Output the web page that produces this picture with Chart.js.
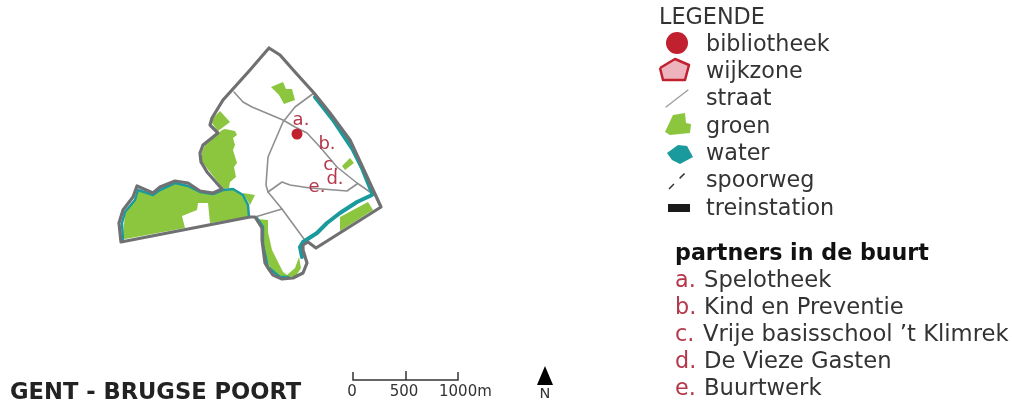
<!DOCTYPE html>
<html>
<head>
<meta charset="utf-8">
<style>
  html, body { margin: 0; padding: 0; background: #fff; }
  canvas { display: block; }
</style>
<script src="https://cdn.jsdelivr.net/npm/chart.js@4"></script>
</head>
<body>
<canvas id="kaart" width="1012" height="404"></canvas>
<script>
// map, units are the reference's own pixels
const wijkzone = [[269,48],[280,55],[295,72],[314,93],[330,113],[350,140],[363,168],[381,207],[316,248],[308,242],[303,245],[303,250],[307,263],[303,273],[293,278],[282,279],[273,275],[268,268],[265,263],[262,240],[262,228],[255,217],[250,217],[121,242],[119,223],[123,210],[133,197],[137,186],[153,193],[160,187],[175,181],[188,183],[200,191],[213,193],[222,189],[207,172],[201,162],[200,153],[203,145],[218,133],[210,125],[212,118],[223,100],[250,70],[269,48]];

const groenWest = [[123,238],[125,212],[135,200],[138,190],[153,195],[160,190],[175,183],[188,186],[200,192],[213,194],[223,190],[233,189],[243,195],[248,205],[248,217],[210,223],[208,203],[198,203],[197,210],[182,216],[185,228],[125,239]];
const groenWestRand = [[243,193],[255,195],[250,205]];
const groenNoordwest = [[202,162],[202,152],[205,145],[222,130],[225,129],[235,131],[237,135],[233,138],[235,145],[233,150],[237,163],[234,167],[236,177],[230,182],[229,188],[223,189],[222,187],[210,172]];
const groenPunt = [[220,111],[230,122],[218,131],[212,123],[213,118]];
const groenNoord = [[271,87],[283,82],[286,89],[292,89],[295,100],[284,104],[279,95]];
const groenOost = [[342,166],[350,158],[354,163],[345,170]];
const groenZuidoost = [[340,217],[368,202],[373,210],[340,231]];
const groenZuid = [[257,219],[268,220],[268,232],[272,250],[283,272],[287,275],[295,268],[299,257],[301,268],[296,276],[283,278],[270,268],[264,250],[263,230]];

const waterOost = [[315,97],[333,120],[353,150],[362,168],[372,193]];
const waterZuid = [[372,195],[357,202],[340,213],[327,223],[317,233],[303,242],[300,247],[302,257]];
const waterLus = [[257,218],[263,227],[263,245],[268,267],[280,277],[288,277]];
const waterWest = [[123,240],[122,223],[125,212],[135,200],[138,190],[153,195],[160,190],[175,183],[188,186],[200,192],[213,194],[223,190],[233,189],[243,195],[248,205],[249,217]];

const straat1 = [[234,92],[243,102],[252,107],[283,120],[295,127],[307,133],[320,147],[337,167],[357,183],[370,192]];
const straat2 = [[314,93],[295,107],[283,122],[268,157],[266,185],[268,192],[282,209],[304,239]];
const straat3 = [[268,192],[282,182],[290,185],[310,188],[347,191],[357,184]];
const straat4 = [[255,217],[282,209]];

const bibliotheek = [[297,134]];
const partnerLetters = ["a.", "b.", "c.", "d.", "e."];
const partnerPlekken = [[301,120],[327,144],[331,165],[335,179],[317,187]];

const legendeTitel = "LEGENDE";
const legendeNamen = ["bibliotheek", "wijkzone", "straat", "groen", "water", "spoorweg", "treinstation"];
const partnersTitel = "partners in de buurt";
const partnerNamen = ["Spelotheek", "Kind en Preventie", "Vrije basisschool \u2019t Klimrek", "De Vieze Gasten", "Buurtwerk"];
const kaartTitel = "GENT - BRUGSE POORT";
const schaalLabels = ["0", "500", "1000m"];

// legend swatches
const keyBibliotheek = [[677,43]];
const keyWijkzone = [[660,68],[675,59],[689,65],[685,80],[663,80]];
const keyStraat = [[666,107],[688,90]];
const keyGroen = [[665,132],[673,115],[685,113],[686,123],[691,124],[690,133],[670,135]];
const keyWater = [[667,153],[678,145],[687,146],[693,157],[680,164],[672,160]];
const keySpoorweg = [[669,189],[690,168]];
const keyStation = [[668,204],[690,204],[690,212],[668,212]];

// scale bar and north arrow
const schaalLijn = [[353,372],[353,380],[406,380],[406,371],[406,380],[458,380],[458,372]];
const noordPijl = [[545,366],[537,385],[553,385]];

const GRIJS = "#6f7072", STRAAT = "#8f8f8f", GROEN = "#8cc63f", WATER = "#1a9a9c", ROOD = "#c1202f", TEKST = "#333333", LETTER = "#b5374a";

function pts(a) { return a.map(p => ({ x: p[0], y: p[1] })); }
function lijn(a, kleur, dikte, extra) {
    return Object.assign({ data: pts(a), showLine: true, fill: false, borderColor: kleur, borderWidth: dikte, pointRadius: 0, borderJoinStyle: "round", borderCapStyle: "round" }, extra || {});
}
function vlak(a, kleur, rand, dikte) {
    return { data: pts(a.concat([a[0]])), showLine: true, fill: "shape", backgroundColor: kleur, borderColor: rand || kleur, borderWidth: dikte || 0, pointRadius: 0, borderJoinStyle: "round" };
}
function stip(a, straal) {
    return { data: pts(a), showLine: false, pointRadius: straal, pointBackgroundColor: ROOD, pointBorderWidth: 0 };
}

// back to front
const lagen = [
    vlak(groenWest, GROEN), vlak(groenWestRand, GROEN), vlak(groenNoordwest, GROEN), vlak(groenPunt, GROEN),
    vlak(groenNoord, GROEN), vlak(groenOost, GROEN), vlak(groenZuidoost, GROEN), vlak(groenZuid, GROEN),
    lijn(straat1, STRAAT, 1.6), lijn(straat2, STRAAT, 1.6), lijn(straat3, STRAAT, 1.6), lijn(straat4, STRAAT, 1.6),
    lijn(waterOost, WATER, 4), lijn(waterZuid, WATER, 4), lijn(waterLus, WATER, 2.5), lijn(waterWest, WATER, 2.5),
    lijn(wijkzone, GRIJS, 3.2),
    stip(bibliotheek, 5.5),
    stip(keyBibliotheek, 11),
    vlak(keyWijkzone, "#eeb4be", ROOD, 2.5),
    lijn(keyStraat, "#9a9a9a", 1.2),
    vlak(keyGroen, GROEN), vlak(keyWater, WATER),
    lijn(keySpoorweg, "#333333", 1.5, { borderDash: [7, 8], borderCapStyle: "butt" }),
    vlak(keyStation, "#1a1a1a"),
    lijn(schaalLijn, "#333333", 1.5, { borderCapStyle: "butt", borderJoinStyle: "miter" }),
    vlak(noordPijl, "#000000")
];
lagen.forEach((l, i) => { l.order = lagen.length - i; });

const teksten = {
    id: "teksten",
    afterDatasetsDraw(chart) {
        const { ctx, scales: { x, y } } = chart;
        const zet = (t, px, py, font, kleur, align) => {
            ctx.font = font;
            ctx.fillStyle = kleur;
            ctx.textAlign = align || "left";
            ctx.textBaseline = "middle";
            ctx.fillText(t, x.getPixelForValue(px), y.getPixelForValue(py));
        };
        const FONT = '"DejaVu Sans"';
        ctx.save();
        partnerLetters.forEach((t, i) => zet(t, partnerPlekken[i][0], partnerPlekken[i][1], "18px " + FONT, LETTER, "center"));
        zet(legendeTitel, 659, 18, "22.3px " + FONT, TEKST);
        legendeNamen.forEach((t, i) => zet(t, 706, 45 + i * 27.3, "22.3px " + FONT, TEKST));
        zet(partnersTitel, 675, 254, "bold 22.2px " + FONT, "#111111");
        partnerNamen.forEach((t, i) => {
            zet(partnerLetters[i], 675, 281 + i * 27, "22.3px " + FONT, LETTER);
            zet(t, i === 2 ? 703 : 704, 281 + i * 27, "22.7px " + FONT, TEKST);
        });
        zet(kaartTitel, 10, 393, "bold 22.6px " + FONT, "#222222");
        zet(schaalLabels[0], 352, 392, "15px " + FONT, TEKST, "center");
        zet(schaalLabels[1], 404, 392, "15px " + FONT, TEKST, "center");
        zet(schaalLabels[2], 439, 392, "15px " + FONT, TEKST);
        zet("N", 545, 394, "14.5px " + FONT, TEKST, "center");
        ctx.restore();
    }
};

new Chart(document.getElementById("kaart"), {
    type: "scatter",
    data: { datasets: lagen },
    options: {
        responsive: false,
        animation: false,
        layout: { padding: 0, autoPadding: false },
        plugins: { legend: { display: false }, tooltip: { enabled: false } },
        scales: {
            x: { type: "linear", min: 0, max: 1012, display: false },
            y: { type: "linear", min: 0, max: 404, reverse: true, display: false }
        }
    },
    plugins: [teksten]
});
</script>
</body>
</html>
